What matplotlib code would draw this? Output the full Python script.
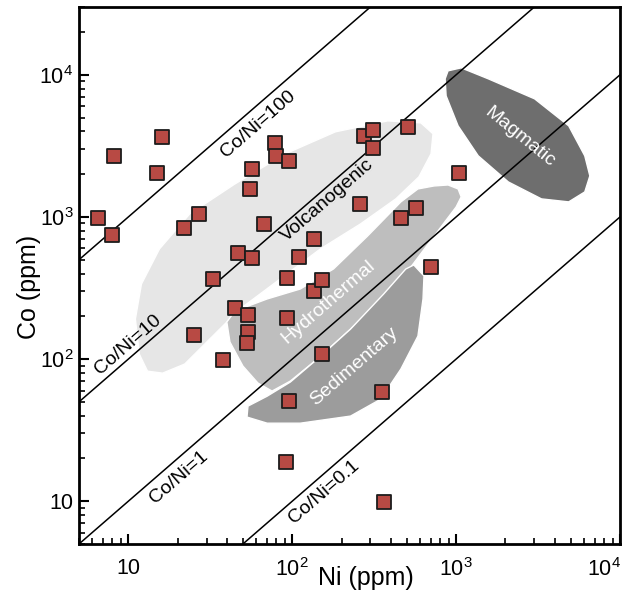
import numpy as np
import matplotlib
matplotlib.use("Agg")
import matplotlib.pyplot as plt
from matplotlib.patches import Polygon
from matplotlib.ticker import LogLocator, FuncFormatter, NullFormatter

plt.rcParams['font.family'] = ['Liberation Sans', 'DejaVu Sans']

# sample points (ppm)
ni = [8.2, 16, 15, 6.5, 7.9, 22, 27, 57, 55, 79, 80, 95, 67, 47, 57, 33, 93,
      135, 110, 135, 273, 310, 310, 508, 1040, 258, 568, 460, 703, 153, 45, 54,
      93, 54, 53, 25, 38, 153, 96, 352, 92, 362]
co = [2690, 3660, 2040, 984, 747, 837, 1050, 2180, 1575, 3320, 2690, 2480, 893,
      558, 514, 366, 372, 700, 523, 301, 3720, 4100, 3060, 4300, 2040, 1234,
      1157, 984, 444, 360, 229, 204, 194, 155, 130, 148, 98, 108, 51, 59, 19, 9.8]

# Co/Ni reference ratios
ratios = [100, 10, 1, 0.1]
ratio_labels = ["Co/Ni=100", "Co/Ni=10", "Co/Ni=1", "Co/Ni=0.1"]
ratio_label_pos = [(62, 4500), (10, 127), (20.3, 14.8), (157, 11.6)]

# field outlines as (log10 Ni, log10 Co)
volcanogenic = [(2.583, 3.676), (2.785, 3.662), (2.859, 3.585), (2.847, 3.444),
                (2.773, 3.282), (2.632, 3.127), (2.417, 2.951), (2.172, 2.775),
                (1.926, 2.563), (1.681, 2.352), (1.497, 2.141), (1.344, 1.965),
                (1.209, 1.901), (1.117, 1.915), (1.067, 2.035), (1.043, 2.282),
                (1.080, 2.528), (1.190, 2.775), (1.374, 3.021), (1.650, 3.232),
                (1.957, 3.444), (2.264, 3.599)]
hydrothermal = [(2.865, 3.218), (2.951, 3.225), (3.012, 3.197), (3.031, 3.141),
                (3.000, 3.070), (2.908, 2.930), (2.724, 2.648), (2.558, 2.444),
                (2.356, 2.211), (2.153, 2.000), (1.988, 1.845), (1.877, 1.775),
                (1.791, 1.831), (1.699, 1.951), (1.620, 2.120), (1.601, 2.261),
                (1.650, 2.338), (1.847, 2.423), (2.049, 2.493), (2.252, 2.634),
                (2.460, 2.866), (2.663, 3.106), (2.767, 3.197)]
sedimentary = [(2.693, 2.634), (2.742, 2.662), (2.804, 2.585), (2.798, 2.423),
               (2.767, 2.162), (2.663, 1.930), (2.540, 1.718), (2.356, 1.599),
               (2.049, 1.549), (1.847, 1.549), (1.724, 1.592), (1.730, 1.669),
               (1.847, 1.739), (1.988, 1.838), (2.153, 2.000), (2.356, 2.211),
               (2.558, 2.458)]
magmatic = [(2.933, 3.972), (2.951, 4.028), (3.031, 4.049), (3.196, 3.972),
            (3.479, 3.831), (3.687, 3.641), (3.785, 3.430), (3.816, 3.289),
            (3.785, 3.176), (3.687, 3.106), (3.521, 3.127), (3.319, 3.246),
            (3.135, 3.430), (3.012, 3.641), (2.939, 3.852)]

fields = [
    (volcanogenic, "#e6e6e6", "Volcanogenic", (164, 1300), "black", 1),
    (hydrothermal, "#bebebe", "Hydrothermal", (166, 252), "white", 1),
    (sedimentary, "#9c9c9c", "Sedimentary", (237, 88), "white", 1),
    (magmatic, "#6e6e6e", "Magmatic", (2440, 3650), "white", -1),
]


def pow_label(e):
    if e == 1:
        return "10"
    return r"$\mathregular{10^{%d}}$" % e


def y_fmt(v, pos):
    return pow_label(int(round(np.log10(v))))


def x_fmt(v, pos):
    e = int(round(np.log10(v)))
    # the 10^4 label sits at the right spine, drawn separately below
    return "" if e == 4 else pow_label(e)


fig = plt.figure(figsize=(6.35, 6.01), dpi=100)
ax = fig.add_axes([79 / 635, 1 - 544 / 601, 541 / 635, 537 / 601])
ax.set_xscale('log')
ax.set_yscale('log')
ax.set_xlim(5, 1e4)
ax.set_ylim(5, 3e4)

# slope-1 angle on screen, used for line labels
p0 = ax.transData.transform((10, 10))
p1 = ax.transData.transform((1000, 1000))
ang = np.degrees(np.arctan2(p1[1] - p0[1], p1[0] - p0[0]))

for verts, color, name, pos, tcolor, sgn in fields:
    arr = np.power(10.0, np.array(verts))
    ax.add_patch(Polygon(arr, closed=True, facecolor=color, edgecolor='white',
                         lw=1.0, joinstyle='round', zorder=1))
    ax.text(pos[0], pos[1], name, color=tcolor, fontsize=14,
            rotation=ang if sgn > 0 else -39, ha='center', va='center',
            rotation_mode='anchor', zorder=4)

xs = np.array([5, 1e4])
for r, lab, pos in zip(ratios, ratio_labels, ratio_label_pos):
    ax.plot(xs, r * xs, color='black', lw=1.1, zorder=2)
    ax.text(pos[0], pos[1], lab, fontsize=14, rotation=ang, ha='center',
            va='center', rotation_mode='anchor', zorder=4)

ax.scatter(ni, co, marker='s', s=115, facecolor='#b84a44', edgecolor='#1c1c1c',
           linewidth=1.3, zorder=5)

for axis, f in ((ax.xaxis, x_fmt), (ax.yaxis, y_fmt)):
    axis.set_major_locator(LogLocator(base=10))
    axis.set_minor_locator(LogLocator(base=10, subs=np.arange(2, 10)))
    axis.set_major_formatter(FuncFormatter(f))
    axis.set_minor_formatter(NullFormatter())

ax.tick_params(which='both', direction='in', top=False, right=False,
               labelsize=15.5, width=1.5)
ax.tick_params(which='major', length=7)
ax.tick_params(which='minor', length=4, width=1.2)
ax.tick_params(axis='x', which='major', pad=10)
ax.tick_params(axis='y', which='major', pad=4)
for sp in ax.spines.values():
    sp.set_linewidth(2)

ax.annotate(pow_label(4), xy=(1e4, 0), xycoords=('data', 'axes fraction'),
            xytext=(1, -10), textcoords='offset points', ha='right', va='top',
            fontsize=15.5, annotation_clip=False)

ax.set_xlabel("Ni (ppm)", fontsize=18)
ax.set_ylabel("Co (ppm)", fontsize=18)
ax.xaxis.set_label_coords(0.53, -0.064)
ax.xaxis.label.set_va('center')
ax.yaxis.set_label_coords(-0.093, 0.478)
ax.yaxis.label.set_va('center')

fig.savefig("out.png", dpi=100)
